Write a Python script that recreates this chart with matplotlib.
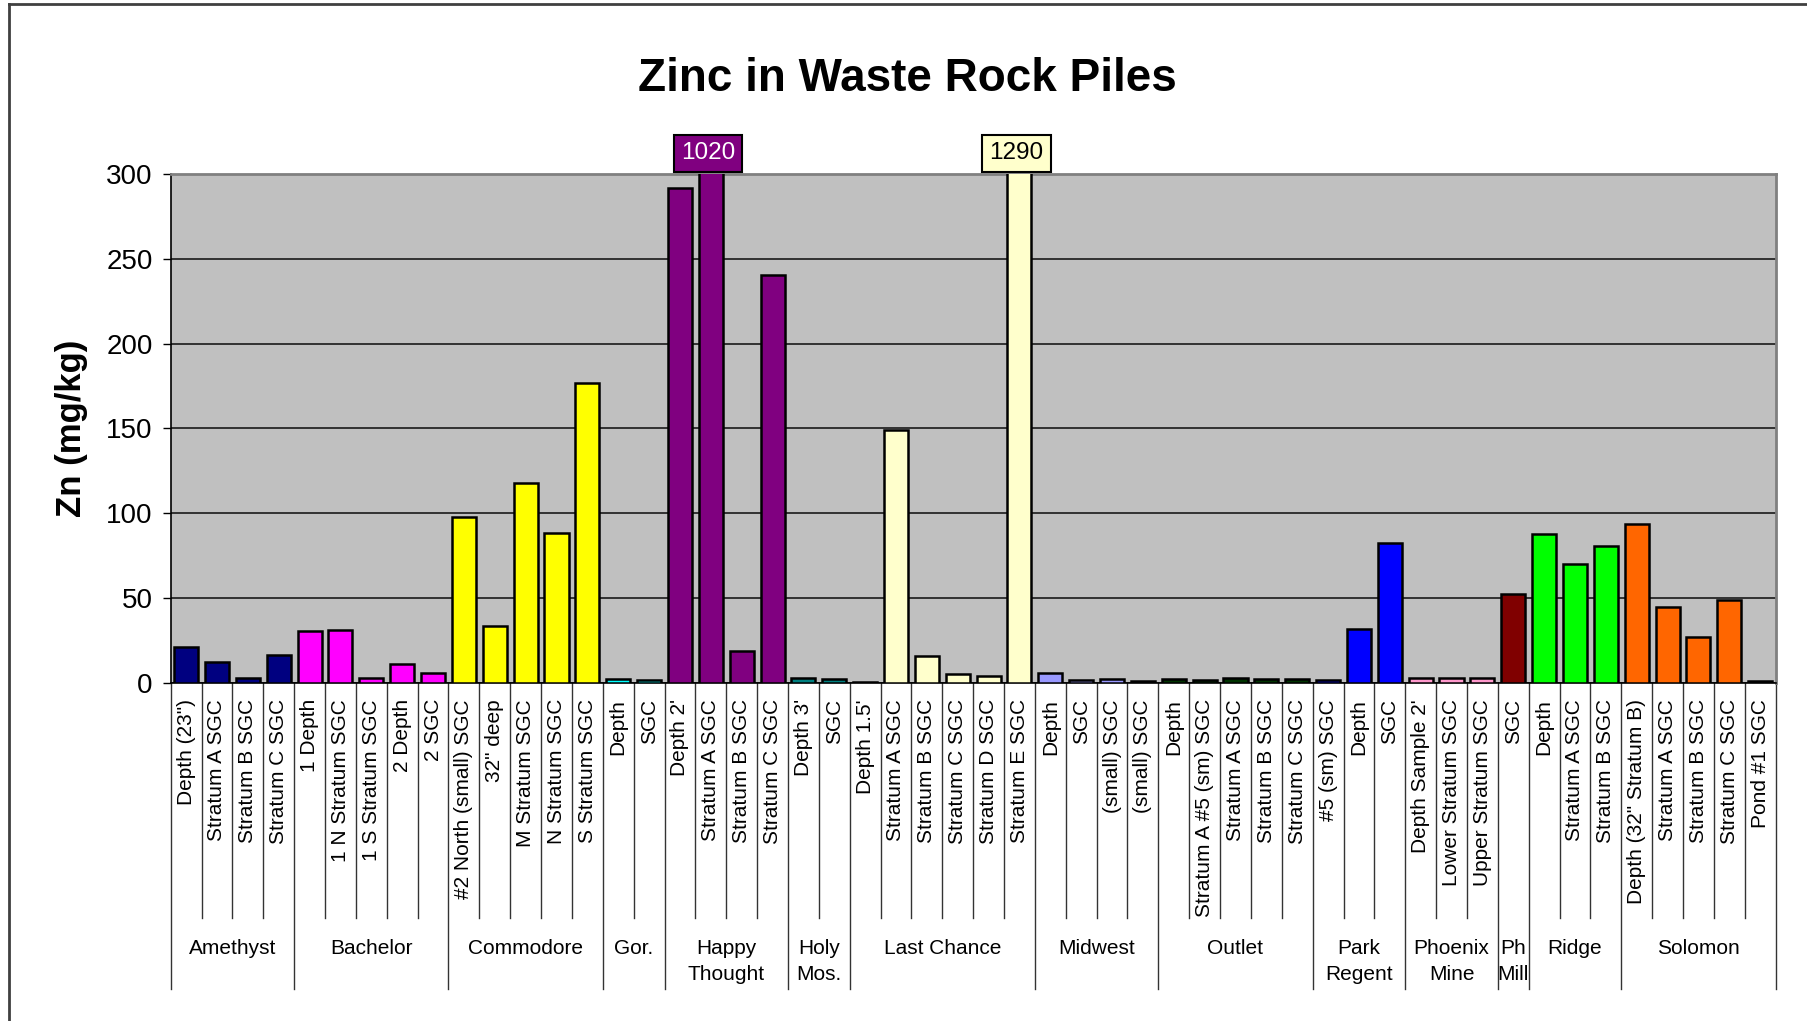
import matplotlib
matplotlib.use('Agg')
import matplotlib.pyplot as plt
from matplotlib.lines import Line2D

plt.rcParams['font.family'] = ['Liberation Sans', 'DejaVu Sans']

# ---------------- data ----------------
group_names = ['Amethyst', 'Bachelor', 'Commodore', 'Gor.', 'Happy\nThought', 'Holy\nMos.',
               'Last Chance', 'Midwest', 'Outlet', 'Park\nRegent', 'Phoenix\nMine', 'Ph\nMill',
               'Ridge', 'Solomon']
group_sizes = [4, 5, 5, 2, 4, 2, 6, 4, 5, 3, 3, 1, 3, 5]
group_colors = ['#000080', '#FF00FF', '#FFFF00', '#00FFFF', '#800080', '#008080',
                '#FFFFCC', '#9999FF', '#003300', '#0000FF', '#FF99CC', '#800000',
                '#00FF00', '#FF6600']

sample_labels = [
    'Depth (23")', 'Stratum A SGC', 'Stratum B SGC', 'Stratum C SGC',
    '1 Depth', '1 N Stratum SGC', '1 S Stratum SGC', '2 Depth', '2 SGC',
    '#2 North (small) SGC', '32" deep', 'M Stratum SGC', 'N Stratum SGC', 'S Stratum SGC',
    'Depth', 'SGC',
    "Depth 2'", 'Stratum A SGC', 'Stratum B SGC', 'Stratum C SGC',
    "Depth 3'", 'SGC',
    "Depth 1.5'", 'Stratum A SGC', 'Stratum B SGC', 'Stratum C SGC', 'Stratum D SGC', 'Stratum E SGC',
    'Depth', 'SGC', '(small) SGC', '(small) SGC',
    'Depth', 'Stratum A #5 (sm) SGC', 'Stratum A SGC', 'Stratum B SGC', 'Stratum C SGC',
    '#5 (sm) SGC', 'Depth', 'SGC',
    "Depth Sample 2'", 'Lower Stratum SGC', 'Upper Stratum SGC',
    'SGC',
    'Depth', 'Stratum A SGC', 'Stratum B SGC',
    'Depth (32" Stratum B)', 'Stratum A SGC', 'Stratum B SGC', 'Stratum C SGC', 'Pond #1 SGC',
]

zn_values = [
    21, 12, 3, 16.5,
    30.5, 31, 3, 11, 5.5,
    97.5, 33.5, 117.5, 88, 177,
    2, 1.5,
    291.5, 1020, 18.5, 240.5,
    2.5, 2,
    0.5, 149, 15.5, 5, 4, 1290,
    5.5, 1.5, 2, 0.8,
    2, 1.5, 2.5, 2, 2,
    1.5, 31.5, 82.5,
    3, 2.5, 3,
    52.5,
    87.5, 70, 80.5,
    93.5, 44.5, 27, 48.5, 1,
]

y_ticks = [0, 50, 100, 150, 200, 250, 300]

# ---------------- figure ----------------
W, H = 1808, 1021
fig = plt.figure(figsize=(W / 100, H / 100), dpi=100)
ax_left, ax_right, ax_top, ax_bot = 170.7, 1775.6, 174.0, 682.6
ax = fig.add_axes([ax_left / W, 1 - ax_bot / H, (ax_right - ax_left) / W, (ax_bot - ax_top) / H])
ax_h = ax_bot - ax_top

bar_colors = []
for color, n in zip(group_colors, group_sizes):
    bar_colors += [color] * n

x = list(range(len(zn_values)))
ax.set_facecolor('#C0C0C0')
ax.set_axisbelow(True)
ax.yaxis.grid(True, color='#1a1a1a', linewidth=1.2)
ax.bar(x, zn_values, width=0.78, color=bar_colors, edgecolor='black', linewidth=1.8, zorder=3)

ax.set_xlim(-0.5, len(zn_values) - 0.5)
ax.set_ylim(0, 300)
ax.set_yticks(y_ticks)
ax.tick_params(axis='y', labelsize=20, length=6, width=1, pad=7, direction='out')
ax.set_xticks([])

for side in ['top', 'right']:
    ax.spines[side].set_color('#808080')
    ax.spines[side].set_linewidth(2)
ax.spines['left'].set_color('black')
ax.spines['bottom'].set_color('black')
ax.spines['left'].set_linewidth(1.2)
ax.spines['bottom'].set_linewidth(1.2)

# labels for the clipped bars
for i, v in enumerate(zn_values):
    if v > 300:
        txt_color = 'white' if bar_colors[i] == '#800080' else 'black'
        ax.annotate(f'{v:g}', xy=(i, 300), xytext=(-2, 7), textcoords='offset points',
                    ha='center', va='bottom', fontsize=17.5, color=txt_color, zorder=5,
                    annotation_clip=False,
                    bbox=dict(boxstyle='square,pad=0.3', facecolor=bar_colors[i],
                              edgecolor='black', linewidth=1.5))

# multi-level category axis
trans = ax.get_xaxis_transform()
inner_bottom = -(918 - ax_bot) / ax_h
group_bottom = -(989 - ax_bot) / ax_h
label_top = -(699 - ax_bot) / ax_h
group_label_top = -(939 - ax_bot) / ax_h

for i, lab in enumerate(sample_labels):
    ax.text(i, label_top, lab, transform=trans, rotation=90, ha='center', va='top', fontsize=15)

start = 0
boundaries = [0]
for name, n in zip(group_names, group_sizes):
    end = start + n
    boundaries.append(end)
    ax.text((start + end - 1) / 2, group_label_top, name, transform=trans, ha='center', va='top',
            fontsize=15, linespacing=1.45)
    for b in range(start + 1, end):
        ax.plot([b - 0.5, b - 0.5], [0, inner_bottom], transform=trans, color='#333333',
                linewidth=1, clip_on=False)
    start = end
for b in boundaries:
    ax.plot([b - 0.5, b - 0.5], [0, group_bottom], transform=trans, color='#333333',
            linewidth=1, clip_on=False)

ax.text((71.5 - ax_left) / (ax_right - ax_left), 0.5, 'Zn (mg/kg)', transform=ax.transAxes,
        rotation=90, ha='center', va='center', fontsize=25, fontweight='bold')

fig.text(907 / W, 1 - 91 / H, 'Zinc in Waste Rock Piles', ha='center', va='baseline',
         fontsize=33, fontweight='bold')

# chart area frame (left and top edges visible)
fig.add_artist(Line2D([9 / W, 9 / W], [0, 1 - 4 / H], transform=fig.transFigure, color='#404040', linewidth=2))
fig.add_artist(Line2D([9 / W, 1], [1 - 4 / H, 1 - 4 / H], transform=fig.transFigure, color='#404040', linewidth=2))

fig.savefig('out.png', dpi=100, facecolor='white')
